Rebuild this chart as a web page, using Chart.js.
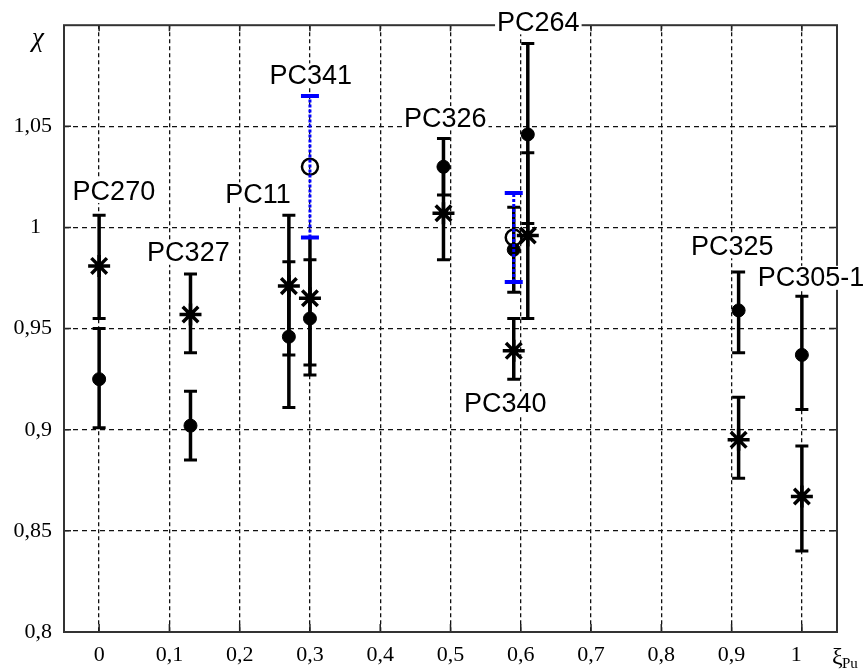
<!DOCTYPE html>
<html>
<head>
<meta charset="utf-8">
<script src="https://cdn.jsdelivr.net/npm/chart.js@4.4.0/dist/chart.umd.min.js"></script>
<style>
  html, body { margin: 0; padding: 0; background: #fff; }
  #wrap { position: relative; width: 868px; height: 671px; }
</style>
</head>
<body>
<div id="wrap"><canvas id="chiChart"></canvas></div>
<script>
// asterisk series: xi_Pu, chi and error bar ends
const starX    = [0, 0.13, 0.27, 0.30, 0.49, 0.59, 0.61, 0.91, 1.0];
const starChi  = [0.981, 0.957, 0.971, 0.965, 1.007, 0.939, 0.996, 0.895, 0.867];
const starLow  = [0.955, 0.938, 0.937, 0.932, 0.984, 0.925, 0.955, 0.876, 0.840];
const starHigh = [1.006, 0.977, 1.006, 0.995, 1.030, 0.955, 1.037, 0.916, 0.892];

// filled circle series
const dotX    = [0, 0.13, 0.27, 0.30, 0.49, 0.59, 0.61, 0.91, 1.0];
const dotChi  = [0.925, 0.902, 0.946, 0.955, 1.030, 0.989, 1.046, 0.959, 0.937];
const dotLow  = [0.901, 0.885, 0.911, 0.927, 1.016, 0.968, 1.002, 0.938, 0.910];
const dotHigh = [0.950, 0.919, 0.983, 0.984, 1.044, 1.010, 1.091, 0.978, 0.966];

// open circles with blue dotted bars (PC341, PC340)
const openX    = [0.30, 0.59];
const openChi  = [1.030, 0.995];
const openLow  = [0.995, 0.973];
const openHigh = [1.065, 1.017];

// experiment names and where they sit (data coords)
const labelNames = ['PC270', 'PC327', 'PC11', 'PC341', 'PC326', 'PC264', 'PC340', 'PC325', 'PC305-1'];
const labelX = [0.021, 0.127, 0.226, 0.301, 0.4925, 0.625, 0.578, 0.901, 1.013];
const labelY = [1.018, 0.9875, 1.0164, 1.0752, 1.054, 1.1014, 0.9131, 0.9907, 0.9751];

const xTicks = [0, 0.1, 0.2, 0.3, 0.4, 0.5, 0.6, 0.7, 0.8, 0.9, 1];
const yTicks = [0.8, 0.85, 0.9, 0.95, 1, 1.05];

function points(xs, ys) {
    return xs.map((x, i) => ({ x: x, y: ys[i] }));
}

// lo/hi pairs separated by a gap so each bar is its own segment
function bars(xs, lo, hi) {
    const out = [];
    xs.forEach((x, i) => {
        out.push({ x: x, y: lo[i] }, { x: x, y: hi[i] }, { x: x, y: null });
    });
    return out;
}

function commaLabel(v) {
    const s = String(Math.round(v * 100) / 100).replace('.', ',');
    return s === '1' ? '1\u2002' : s;
}

const frameAndLabels = {
    id: 'frameAndLabels',
    beforeDatasetsDraw(chart) {
        const { ctx, chartArea: a, scales } = chart;
        ctx.save();
        ctx.strokeStyle = '#222';
        ctx.lineWidth = 1.5;
        ctx.setLineDash([]);
        xTicks.forEach(v => {
            const px = scales.x.getPixelForValue(v);
            ctx.beginPath();
            ctx.moveTo(px, a.bottom); ctx.lineTo(px, a.bottom - 8);
            ctx.moveTo(px, a.top); ctx.lineTo(px, a.top + 6);
            ctx.stroke();
        });
        yTicks.forEach(v => {
            const py = scales.y.getPixelForValue(v);
            ctx.beginPath();
            ctx.moveTo(a.left, py); ctx.lineTo(a.left + 7, py);
            ctx.moveTo(a.right, py); ctx.lineTo(a.right - 8, py);
            ctx.stroke();
        });
        ctx.lineWidth = 2;
        ctx.strokeStyle = '#333';
        ctx.strokeRect(a.left, a.top, a.right - a.left, a.bottom - a.top);
        ctx.restore();
    },
    afterDraw(chart) {
        const { ctx, chartArea: a, scales } = chart;
        ctx.save();
        ctx.font = '27px "Liberation Sans", Arial, sans-serif';
        ctx.textAlign = 'center';
        ctx.textBaseline = 'middle';
        labelNames.forEach((name, i) => {
            const px = scales.x.getPixelForValue(labelX[i]);
            const py = scales.y.getPixelForValue(labelY[i]);
            const w = ctx.measureText(name).width;
            ctx.fillStyle = '#fff';
            ctx.fillRect(px - w / 2 - 2, py - 12, w + 4, 24);
            ctx.fillStyle = '#000';
            ctx.fillText(name, px, py + 1);
        });
        // axis symbols
        ctx.textAlign = 'left';
        ctx.textBaseline = 'alphabetic';
        ctx.font = 'italic 27px "Liberation Serif", "Times New Roman", serif';
        ctx.fillText('\u03C7', a.left - 32, a.top + 21);
        ctx.font = '24px "Liberation Serif", "Times New Roman", serif';
        ctx.fillText('\u03BE', a.right - 5, 664);
        ctx.font = '15px "Liberation Serif", "Times New Roman", serif';
        ctx.fillText('Pu', a.right + 5, 668);
        ctx.restore();
    }
};

const chiCtx = document.getElementById('chiChart').getContext('2d');
new Chart(chiCtx, {
    type: 'scatter',
    data: {
        datasets: [
            {
                // blue dotted error bars
                data: bars(openX, openLow, openHigh),
                showLine: true,
                borderColor: '#0000ff',
                borderWidth: 3,
                borderDash: [3, 2],
                pointStyle: 'line',
                pointRadius: 9,
                pointBorderWidth: 4,
                pointBorderColor: '#0000ff',
                order: 1
            },
            {
                data: points(openX, openChi),
                pointStyle: 'circle',
                pointRadius: 8,
                pointBorderWidth: 2.5,
                pointBorderColor: '#000',
                pointBackgroundColor: 'rgba(0,0,0,0)',
                order: 2
            },
            {
                data: points(starX, starChi),
                pointStyle: 'star',
                pointRadius: 11,
                pointBorderWidth: 3.5,
                pointBorderColor: '#000',
                order: 3
            },
            {
                data: points(dotX, dotChi),
                pointStyle: 'circle',
                pointRadius: 6.5,
                pointBorderWidth: 1,
                pointBorderColor: '#000',
                pointBackgroundColor: '#000',
                order: 4
            },
            {
                data: bars(starX, starLow, starHigh),
                showLine: true,
                borderColor: '#000',
                borderWidth: 3.5,
                pointStyle: 'line',
                pointRadius: 6.5,
                pointBorderWidth: 3,
                pointBorderColor: '#000',
                order: 5
            },
            {
                data: bars(dotX, dotLow, dotHigh),
                showLine: true,
                borderColor: '#000',
                borderWidth: 3.5,
                pointStyle: 'line',
                pointRadius: 6.5,
                pointBorderWidth: 3,
                pointBorderColor: '#000',
                order: 6
            }
        ]
    },
    options: {
        responsive: true,
        maintainAspectRatio: false,
        animation: false,
        layout: { padding: { top: 24, right: 31, left: 0, bottom: 0 } },
        plugins: {
            legend: { display: false },
            tooltip: { enabled: false }
        },
        scales: {
            x: {
                type: 'linear',
                min: -0.05,
                max: 1.05,
                afterBuildTicks: s => { s.ticks = xTicks.map(v => ({ value: v })); },
                afterFit: s => { s.height = 39; },
                grid: { color: '#111', lineWidth: 1.3, drawTicks: false },
                border: { display: false, dash: [4, 3] },
                ticks: {
                    padding: 10,
                    maxRotation: 0,
                    color: '#000',
                    font: { family: '"Liberation Serif", "Times New Roman", serif', size: 22 },
                    callback: v => commaLabel(v)
                }
            },
            y: {
                min: 0.8,
                max: 1.1,
                afterBuildTicks: s => { s.ticks = yTicks.map(v => ({ value: v })); },
                afterFit: s => { s.width = 64; },
                grid: { color: '#111', lineWidth: 1.3, drawTicks: false },
                border: { display: false, dash: [5, 4] },
                ticks: {
                    padding: 12,
                    color: '#000',
                    font: { family: '"Liberation Serif", "Times New Roman", serif', size: 22 },
                    callback: v => commaLabel(v)
                }
            }
        }
    },
    plugins: [frameAndLabels]
});
</script>
</body>
</html>
